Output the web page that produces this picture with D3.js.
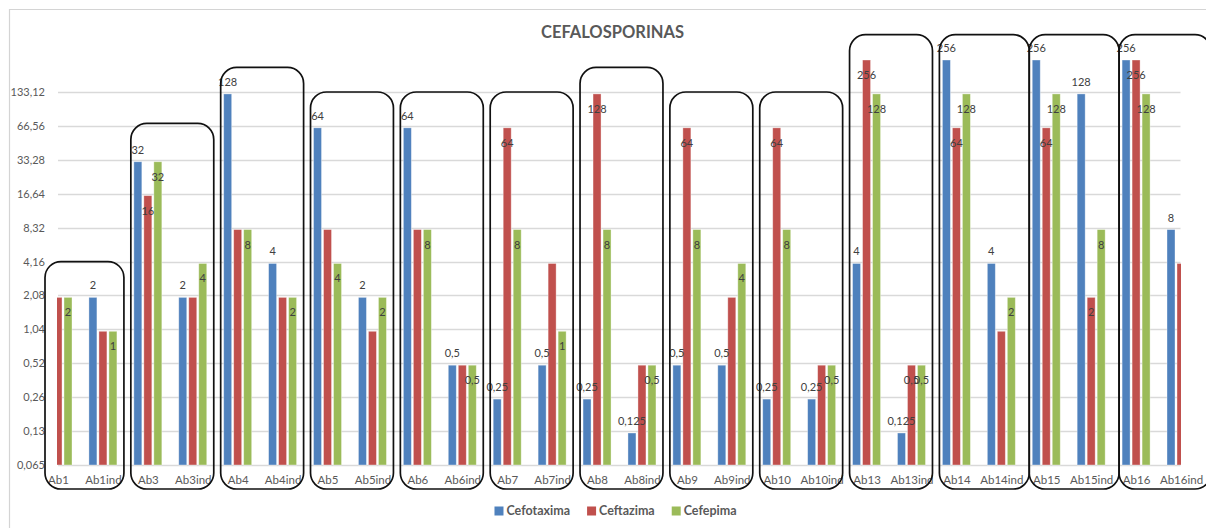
<!DOCTYPE html>
<html>
<head>
<meta charset="utf-8">
<script src="https://cdn.jsdelivr.net/npm/d3@7"></script>
<style>
  body { margin: 0; background: #fff; }
  svg { display: block; }
  text { font-family: Lato, "Open Sans", sans-serif; }
</style>
</head>
<body>
<svg id="chart" width="1206" height="528"></svg>
<script>
// MIC values (µg/mL) per isolate, one array per cephalosporin
const categories = ["Ab1", "Ab1ind", "Ab3", "Ab3ind", "Ab4", "Ab4ind", "Ab5", "Ab5ind",
  "Ab6", "Ab6ind", "Ab7", "Ab7ind", "Ab8", "Ab8ind", "Ab9", "Ab9ind", "Ab10", "Ab10ind",
  "Ab13", "Ab13ind", "Ab14", "Ab14ind", "Ab15", "Ab15ind", "Ab16", "Ab16ind"];
const cefotaxima = [null, 2, 32, 2, 128, 4, 64, 2, 64, 0.5, 0.25, 0.5, 0.25, 0.125,
  0.5, 0.5, 0.25, 0.25, 4, 0.125, 256, 4, 256, 128, 256, 8];
const ceftazima = [2, 1, 16, 2, 8, 2, 8, 1, 8, 0.5, 64, 4, 128, 0.5,
  64, 2, 64, 0.5, 256, 0.5, 64, 1, 64, 2, 256, 4];
const cefepima = [2, 1, 32, 4, 8, 2, 4, 2, 8, 0.5, 8, 1, 8, 0.5,
  8, 4, 8, 0.5, 128, 0.5, 128, 2, 128, 8, 128, null];
// Ceftazima bars that carry a value label
const ceftazimaLabelled = ["Ab3", "Ab7", "Ab8", "Ab9", "Ab10", "Ab13", "Ab13ind",
  "Ab14", "Ab15", "Ab15ind", "Ab16"];

const seriesNames = ["Cefotaxima", "Ceftazima", "Cefepima"];
const tickValues = [0.065, 0.13, 0.26, 0.52, 1.04, 2.08, 4.16, 8.32, 16.64, 33.28, 66.56, 133.12];
const tickLabels = ["0,065", "0,13", "0,26", "0,52", "1,04", "2,08", "4,16", "8,32",
  "16,64", "33,28", "66,56", "133,12"];

// Isolate pairs (strain + induced strain) outlined together, with the outline's top level
const pairFirst = ["Ab1", "Ab3", "Ab4", "Ab5", "Ab6", "Ab7", "Ab8", "Ab9", "Ab10", "Ab13", "Ab14", "Ab15", "Ab16"];
const pairTop = [4.16, 70, 220, 133.12, 133.12, 133.12, 220, 133.12, 133.12, 430, 430, 430, 430];

const colors = ["#4f81bd", "#c0504d", "#9bbb59"];
const seriesValues = [cefotaxima, ceftazima, cefepima];

const svg = d3.select("#chart");

// chart frame
svg.append("path")
  .attr("d", "M9.5,530 V9.5 H1210")
  .attr("fill", "none").attr("stroke", "#d4d4d4").attr("stroke-width", 1.2);

// title
svg.append("text")
  .attr("x", 612.5).attr("y", 38)
  .attr("text-anchor", "middle")
  .attr("font-size", 16.5).attr("font-weight", 700)
  .attr("fill", "#595959")
  .text("CEFALOSPORINAS");

const plotLeft = 57, plotRight = 1180.5;

const x = d3.scalePoint().domain(categories).range([58, 1181]);
const xs = d3.scaleBand().domain(seriesNames).range([-15, 15])
  .paddingInner(0.2).paddingOuter(0.1);
const y = d3.scaleLog().base(2).domain([0.065, 133.12]).range([465, 92]);

// gridlines
svg.append("g").selectAll("line").data(tickValues).join("line")
  .attr("x1", plotLeft + 1).attr("x2", plotRight)
  .attr("y1", d => Math.round(y(d)) + 0.5).attr("y2", d => Math.round(y(d)) + 0.5)
  .attr("stroke", "#d9d9d9").attr("stroke-width", 1.3);

// y axis labels
const yAxis = d3.axisLeft(y).tickValues(tickValues)
  .tickFormat((d, i) => tickLabels[i]).tickSize(0).tickPadding(0);
const yg = svg.append("g").attr("transform", "translate(45,0)").call(yAxis);
yg.select(".domain").remove();
yg.selectAll("text").attr("font-size", 11).attr("fill", "#595959")
  .style("font-family", "Lato, 'Open Sans', sans-serif");

// x axis labels
const xAxis = d3.axisBottom(x).tickSize(0).tickPadding(0);
const xg = svg.append("g").attr("transform", "translate(0,476)").call(xAxis);
xg.select(".domain").remove();
xg.selectAll("text").attr("font-size", 11.5).attr("fill", "#595959")
  .style("font-family", "Lato, 'Open Sans', sans-serif");

// bars
svg.append("clipPath").attr("id", "plotClip")
  .append("rect").attr("x", plotLeft).attr("y", 0)
  .attr("width", plotRight - plotLeft + 0.5).attr("height", 528);

const barData = [];
seriesValues.forEach((vals, s) => {
  vals.forEach((v, i) => {
    if (v != null) barData.push({ cat: categories[i], s, v });
  });
});

svg.append("g").attr("clip-path", "url(#plotClip)")
  .selectAll("rect").data(barData).join("rect")
  .attr("x", d => x(d.cat) + xs(seriesNames[d.s]))
  .attr("width", xs.bandwidth())
  .attr("y", d => y(d.v))
  .attr("height", d => y(0.065) - y(d.v))
  .attr("fill", d => colors[d.s])
  .attr("stroke", "#ffffff").attr("stroke-opacity", 0.45).attr("stroke-width", 0.8);

// value labels
const fmt = v => String(v).replace(".", ",");
const labelData = barData.filter(d => d.s !== 1 || ceftazimaLabelled.includes(d.cat));
svg.append("g").selectAll("text").data(labelData).join("text")
  .attr("x", d => x(d.cat) + xs(seriesNames[d.s]) + xs.bandwidth() / 2)
  .attr("y", d => d.s === 0 ? y(d.v) - 8 : y(d.v) + 19)
  .attr("text-anchor", "middle")
  .attr("font-size", 11).attr("fill", "#404040")
  .text(d => fmt(d.v));

// outlines around each strain / induced-strain pair
const pairs = pairFirst.map((c, k) => {
  const i = categories.indexOf(c);
  return { first: c, second: categories[i + 1], top: pairTop[k] };
});
const boxBottom = 489;
pairs.forEach((p, k) => {
  p.left = x(p.first) - 17;
  p.right = x(p.second) + 21;
});
// the last outlines sit edge to edge
for (let k = 0; k < pairs.length; k++) {
  const p = pairs[k];
  if (["Ab14", "Ab15"].includes(p.first)) p.right = pairs[k + 1].left;
  if (p.first === "Ab16") p.right = x(p.second) + 30;
  if (p.first === "Ab1") p.left = x(p.first) - 13;
}
svg.append("g").selectAll("rect").data(pairs).join("rect")
  .attr("x", d => d.left).attr("y", d => y(d.top))
  .attr("width", d => d.right - d.left)
  .attr("height", d => boxBottom - y(d.top))
  .attr("rx", 16).attr("ry", 16)
  .attr("fill", "none").attr("stroke", "#111").attr("stroke-width", 1.7);

// legend
const legend = svg.append("g");
const items = legend.selectAll("g").data(seriesNames).join("g");
items.append("rect").attr("width", 9).attr("height", 9).attr("y", 506.5)
  .attr("fill", (d, i) => colors[i]);
items.append("text").attr("x", 12).attr("y", 515)
  .attr("font-size", 12.5).attr("font-weight", 700).attr("fill", "#595959")
  .text(d => d);
let cursor = 0;
const widths = [];
items.each(function () {
  const w = 12 + this.querySelector("text").getComputedTextLength();
  widths.push(w);
});
const gap = 17;
const total = d3.sum(widths) + gap * (widths.length - 1);
cursor = 615.5 - total / 2;
items.attr("transform", (d, i) => {
  const t = `translate(${cursor},0)`;
  cursor += widths[i] + gap;
  return t;
});
</script>
</body>
</html>
